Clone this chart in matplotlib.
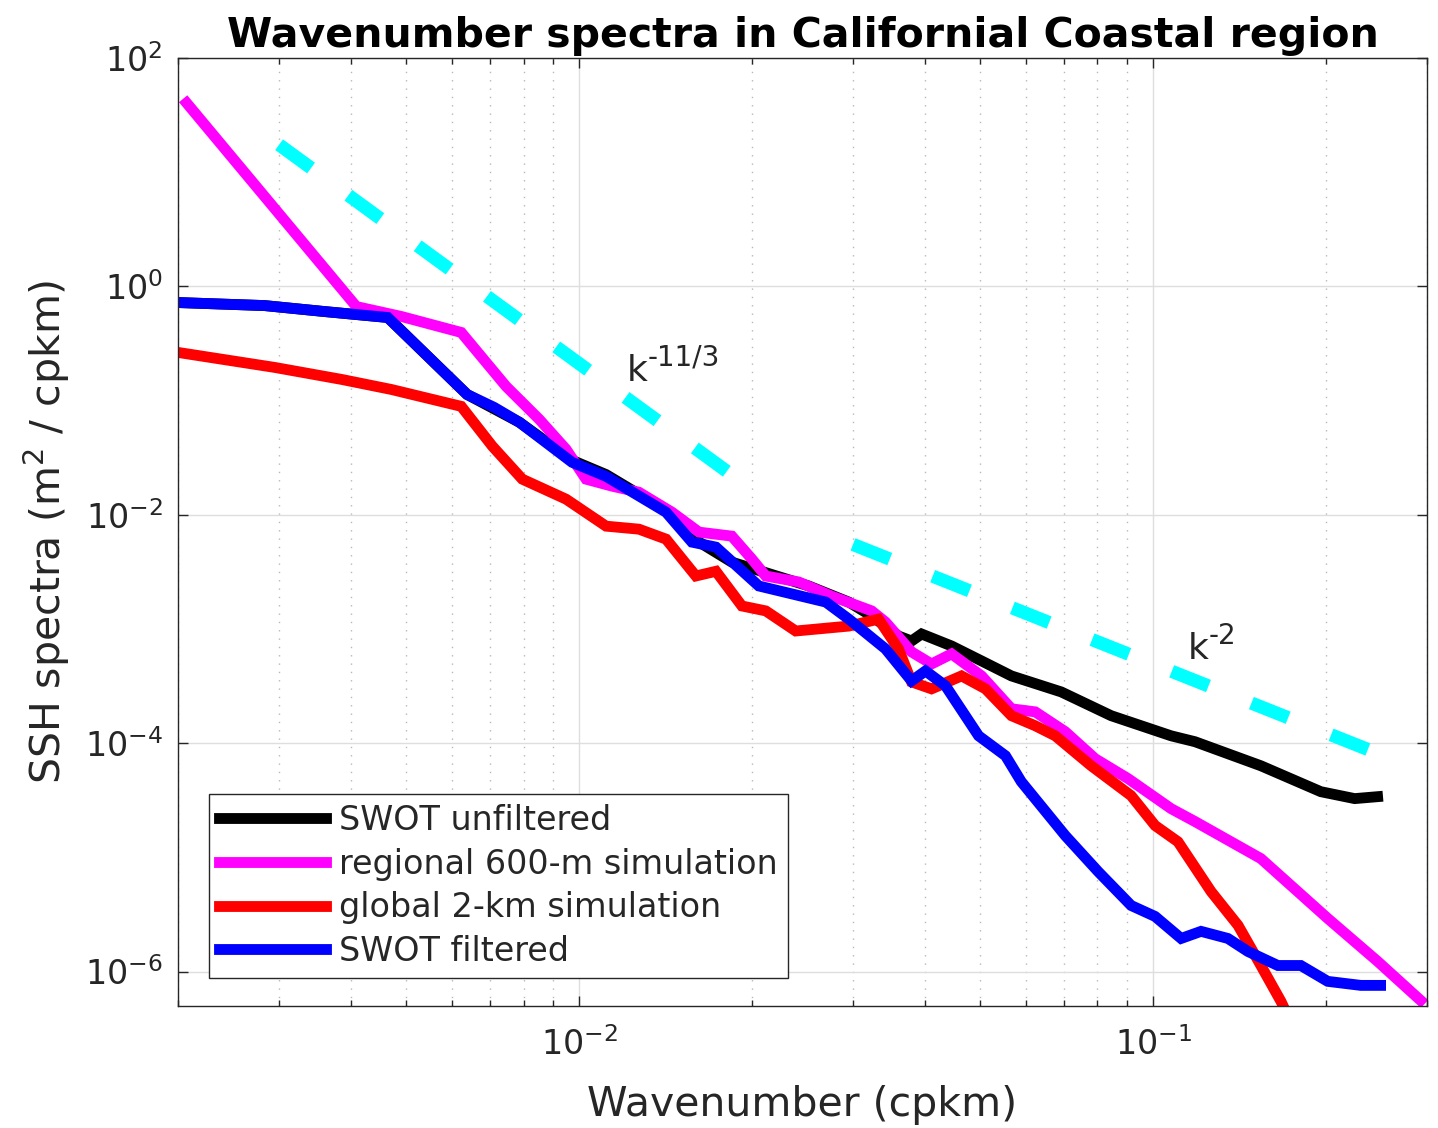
import matplotlib
matplotlib.use('Agg')
import matplotlib.pyplot as plt
from matplotlib.ticker import FixedLocator, LogLocator, NullLocator, NullFormatter

# wavenumber (cpkm) and SSH spectra (m^2/cpkm)
k_unfilt = [0.00200, 0.00283, 0.00360, 0.00464, 0.00638, 0.00787, 0.00972, 0.01114,
            0.01417, 0.01572, 0.01845, 0.02512, 0.02950, 0.03233, 0.03601, 0.03794,
            0.03950, 0.04455, 0.05025, 0.05665, 0.06918, 0.08453, 0.1075, 0.1183,
            0.1541, 0.1960, 0.2245, 0.2461]
s_unfilt = [0.722, 0.679, 0.602, 0.534, 0.113, 0.0645, 0.0300, 0.0225,
            0.0109, 0.0063, 0.00385, 0.00238, 0.00172, 0.00130, 0.000868, 0.000785,
            0.000904, 0.000710, 0.000525, 0.000388, 0.000281, 0.000174, 0.000116, 0.000103,
            6.34e-5, 3.76e-5, 3.27e-5, 3.40e-5]

k_regional = [0.00207, 0.00409, 0.00490, 0.00623, 0.00746, 0.00852, 0.00949, 0.01028,
              0.01141, 0.01271, 0.01451, 0.01617, 0.01845, 0.02000, 0.02114, 0.02413,
              0.02754, 0.03233, 0.03418, 0.03794, 0.04111, 0.04455, 0.05025, 0.05665,
              0.06233, 0.07031, 0.07926, 0.09047, 0.1075, 0.1183, 0.1541, 0.2015,
              0.2461, 0.2924]
s_regional = [40.4, 0.666, 0.545, 0.395, 0.133, 0.0685, 0.0374, 0.0205,
              0.0178, 0.01576, 0.01054, 0.00705, 0.00650, 0.00409, 0.00291, 0.00258,
              0.00194, 0.00144, 0.00115, 0.000630, 0.000494, 0.000605, 0.000388, 0.000200,
              0.000188, 0.000126, 7.31e-5, 4.89e-5, 2.67e-5, 2.06e-5, 9.76e-6, 2.92e-6,
              1.23e-6, 5.60e-7]

k_global = [0.00200, 0.00295, 0.00386, 0.00471, 0.00623, 0.00706, 0.00796, 0.00949,
            0.01114, 0.01271, 0.01417, 0.01597, 0.01731, 0.01921, 0.02114, 0.02384,
            0.02950, 0.03324, 0.03601, 0.03794, 0.04111, 0.04637, 0.05105, 0.05665,
            0.06233, 0.06754, 0.07801, 0.09156, 0.1008, 0.1105, 0.1262, 0.1406,
            0.1541, 0.1670, 0.172]
s_global = [0.264, 0.195, 0.153, 0.125, 0.0890, 0.0398, 0.0205, 0.01369,
            0.00795, 0.00748, 0.00612, 0.00291, 0.0032, 0.00159, 0.00144, 0.000960,
            0.00106, 0.00122, 0.000669, 0.000344, 0.000299, 0.000388, 0.000299, 0.000174,
            0.000142, 0.000116, 6.34e-5, 3.47e-5, 1.90e-5, 1.37e-5, 5.02e-6, 2.54e-6,
            1.13e-6, 5.49e-7, 4.0e-7]

k_filt = [0.00200, 0.00283, 0.00360, 0.00464, 0.00638, 0.00711, 0.00787, 0.00972,
          0.01114, 0.01417, 0.01572, 0.01731, 0.02056, 0.02690, 0.02950, 0.03418,
          0.03794, 0.04013, 0.04348, 0.04965, 0.05531, 0.05893, 0.07031, 0.08021,
          0.09156, 0.1008, 0.1119, 0.1212, 0.1350, 0.1463, 0.1650, 0.1809,
          0.2015, 0.2300, 0.2491]
s_filt = [0.722, 0.679, 0.602, 0.534, 0.113, 0.0872, 0.0645, 0.0288,
          0.0217, 0.01054, 0.00576, 0.00521, 0.00238, 0.00172, 0.00122, 0.000669,
          0.000351, 0.000429, 0.000318, 0.000116, 7.76e-5, 4.60e-5, 1.55e-5, 7.51e-6,
          3.79e-6, 3.04e-6, 1.95e-6, 2.25e-6, 1.95e-6, 1.50e-6, 1.13e-6, 1.13e-6,
          8.21e-7, 7.57e-7, 7.57e-7]

# reference slopes k^-11/3 and k^-2
ref1_k = [0.003, 0.02]
ref1_s = [17.4, 0.0166]
ref2_k = [0.03, 0.25]
ref2_s = [5.5e-3, 7.9e-5]
ref_text = [(0.0121, 0.149, '-11/3'), (0.115, 5.47e-4, '-2')]

labels = ['SWOT unfiltered', 'regional 600-m simulation',
          'global 2-km simulation', 'SWOT filtered']
colors = ['black', '#ff00ff', 'red', 'blue']
yticks = [1e-6, 1e-4, 1e-2, 1e0, 1e2]
xticks = [1e-2, 1e-1]

dark = '#262626'

fig = plt.figure(figsize=(14.38, 11.28), dpi=100)
ax = fig.add_axes([0.1238, 0.1082, 0.8685, 0.8404])

ax.plot(ref1_k, ref1_s, color='cyan', lw=9.5, dashes=(3.0, 3.5),
        dash_capstyle='butt')
ax.plot(ref2_k, ref2_s, color='cyan', lw=9.5, dashes=(3.0, 3.5),
        dash_capstyle='butt')

series = [(k_unfilt, s_unfilt), (k_regional, s_regional),
          (k_global, s_global), (k_filt, s_filt)]
handles = []
for (k, s), lab, c in zip(series, labels, colors):
    h, = ax.plot(k, s, color=c, lw=7.8, label=lab, solid_joinstyle='miter')
    handles.append(h)

ax.set_xscale('log')
ax.set_yscale('log')
ax.set_xlim(0.002, 0.3)
ax.set_ylim(5e-7, 100)

ax.yaxis.set_major_locator(FixedLocator(yticks))
ax.yaxis.set_minor_locator(NullLocator())
ax.xaxis.set_major_locator(FixedLocator(xticks))
ax.xaxis.set_minor_locator(LogLocator(base=10, subs=range(2, 10)))
ax.xaxis.set_minor_formatter(NullFormatter())

ax.grid(True, which='major', color='#dedede', lw=1.0)
ax.grid(True, which='minor', axis='x', color='#b8b8b8', lw=1.0, ls=(0, (1, 5)))
ax.set_axisbelow(True)

ax.tick_params(which='both', direction='in', top=True, right=True, colors=dark,
               width=1.0)
ax.tick_params(which='major', length=7, labelsize=24)
ax.tick_params(which='minor', length=4)
ax.tick_params(axis='x', which='major', pad=15)
ax.tick_params(axis='y', which='major', pad=11)
for sp in ax.spines.values():
    sp.set_color(dark)
    sp.set_linewidth(1.0)

# slope labels: "k" with a hyphen-style superscript
for kx, sy, sup in ref_text:
    ax.text(kx, sy, 'k', fontsize=26, color=dark, va='baseline', ha='left')
    ax.annotate(sup, xy=(kx, sy), xytext=(15, 11), textcoords='offset points',
                fontsize=20, color=dark, va='baseline', ha='left')

ax.set_xlabel('Wavenumber (cpkm)', fontsize=29.5, color=dark, labelpad=17)
ax.set_ylabel(r'SSH spectra (m$^2$ / cpkm)', fontsize=29.5, color=dark, labelpad=9)
ax.set_title('Wavenumber spectra in Californial Coastal region', fontsize=29.5,
             fontweight='bold', pad=8)

leg = ax.legend(handles=handles, loc='lower left', bbox_to_anchor=(0.0248, 0.0295),
                fontsize=24, frameon=True, fancybox=False, framealpha=1,
                edgecolor=dark, handlelength=3.2, handletextpad=0.4,
                labelspacing=0.32, borderpad=0.3, borderaxespad=0)
leg.get_frame().set_linewidth(1.0)
for t in leg.get_texts():
    t.set_color(dark)

fig.savefig('out.png', dpi=100)
